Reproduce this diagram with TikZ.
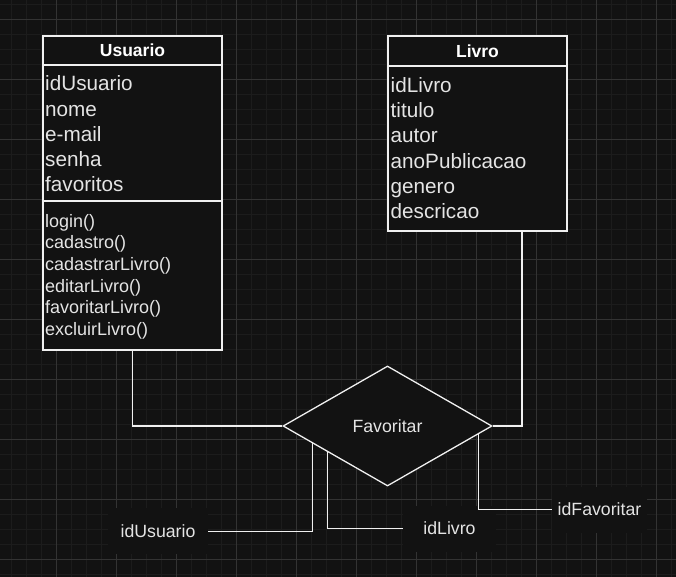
\documentclass[tikz,border=0pt]{standalone}
\usepackage{fontspec}
\setmainfont{Liberation Sans}
\usetikzlibrary{shapes.geometric, calc}

\definecolor{canvas}{HTML}{121212}
\definecolor{minorline}{HTML}{1C1C1C}
\definecolor{majorline}{HTML}{333333}
\definecolor{stroke}{HTML}{F0F0F0}
\definecolor{ink}{HTML}{E4E4E4}

\tikzset{
    minorgrid/.style={minorline, line width=1pt},
    majorgrid/.style={majorline, line width=1pt},
    classhead/.style={draw=stroke, fill=canvas, line width=1.3pt, minimum width=179pt,
        inner sep=0pt, text=white, font={\fontsize{17.5pt}{21pt}\selectfont\bfseries}},
    classpart/.style={draw=stroke, fill=canvas, line width=1.3pt, minimum width=179pt, inner sep=0pt},
    attr/.style={anchor=base west, inner sep=0pt, text=ink, font={\fontsize{20.7pt}{25pt}\selectfont}},
    meth/.style={anchor=base west, inner sep=0pt, text=ink, font={\fontsize{18pt}{22pt}\selectfont}},
    relation/.style={diamond, draw=stroke, fill=canvas, line width=1.3pt, minimum width=209pt,
        minimum height=120pt, inner sep=0pt, text=ink, font={\fontsize{17.7pt}{21pt}\selectfont}},
    lbl/.style={fill=canvas, minimum height=46pt, inner sep=0pt, text=ink,
        font={\fontsize{17.7pt}{21pt}\selectfont}},
    conn/.style={draw=stroke, line width=1.3pt}
}

\begin{document}
\begin{tikzpicture}[x=1pt, y=-1pt]
        \useasboundingbox (0,0) rectangle (676,577);
        \fill[canvas] (0,0) rectangle (676,577);

        % Сетка
        \foreach \x in {11.7,26.7,...,676} \draw[minorgrid] (\x,0) -- (\x,577);
        \foreach \y in {4.3,19.3,...,577} \draw[minorgrid] (0,\y) -- (676,\y);
        \foreach \x in {56.7,116.7,...,676} \draw[majorgrid] (\x,0) -- (\x,577);
        \foreach \y in {19.3,79.3,...,577} \draw[majorgrid] (0,\y) -- (676,\y);

        % Usuario
        \node[classhead, minimum height=29pt] (usuario) at (132.5,50.5) {Usuario};
        \node[classpart, minimum height=136pt] (usuarioAttr) at (132.5,133) {};
        \node[classpart, minimum height=149pt] (usuarioMeth) at (132.5,275.5) {};
        \node[attr] (uId) at (45,91) {idUsuario};
        \node[attr] (uNome) at (45,116.2) {nome};
        \node[attr] (uMail) at (45,141.4) {e-mail};
        \node[attr] (uSenha) at (45,166.6) {senha};
        \node[attr] (uFav) at (45,191.8) {favoritos};
        \node[meth] (mLogin) at (45,227) {login()};
        \node[meth] (mCad) at (45,248.7) {cadastro()};
        \node[meth] (mCadLivro) at (45,270.4) {cadastrarLivro()};
        \node[meth] (mEdit) at (45,292.1) {editarLivro()};
        \node[meth] (mFav) at (45,313.8) {favoritarLivro()};
        \node[meth] (mExcl) at (45,335.5) {excluirLivro()};

        % Livro
        \node[classhead, minimum height=30pt] (livro) at (477.5,51) {Livro};
        \node[classpart, minimum height=165pt] (livroAttr) at (477.5,148.5) {};
        \node[attr] (lId) at (390.5,92.8) {idLivro};
        \node[attr] (lTitulo) at (390.5,117.9) {titulo};
        \node[attr] (lAutor) at (390.5,143) {autor};
        \node[attr] (lAno) at (390.5,168.1) {anoPublicacao};
        \node[attr] (lGenero) at (390.5,193.2) {genero};
        \node[attr] (lDesc) at (390.5,218.3) {descricao};

        % Связь
        \node[relation] (fav) at (387.5,426) {Favoritar};
        \node[lbl, minimum width=100pt] (lblUsuario) at (158,531.3) {idUsuario};
        \node[lbl, minimum width=93pt] (lblLivro) at (449.5,528.5) {idLivro};
        \node[lbl, minimum width=95pt] (lblFav) at (599.5,509.5) {idFavoritar};

        % Линии
        \coordinate (livroFoot) at ([xshift=44.5pt]livroAttr.south);
        \draw[conn] (usuarioMeth.south) |- (fav.west);
        \draw[conn] (livroFoot) |- (fav.east);
        \draw[conn] (lblUsuario.east) -| ($(fav.west)!0.2857!(fav.south)$);
        \draw[conn] (lblLivro.west) -| ($(fav.west)!0.4286!(fav.south)$);
        \draw[conn] (lblFav.west) -| ($(fav.east)!0.1346!(fav.south)$);
    \end{tikzpicture}
\end{document}
